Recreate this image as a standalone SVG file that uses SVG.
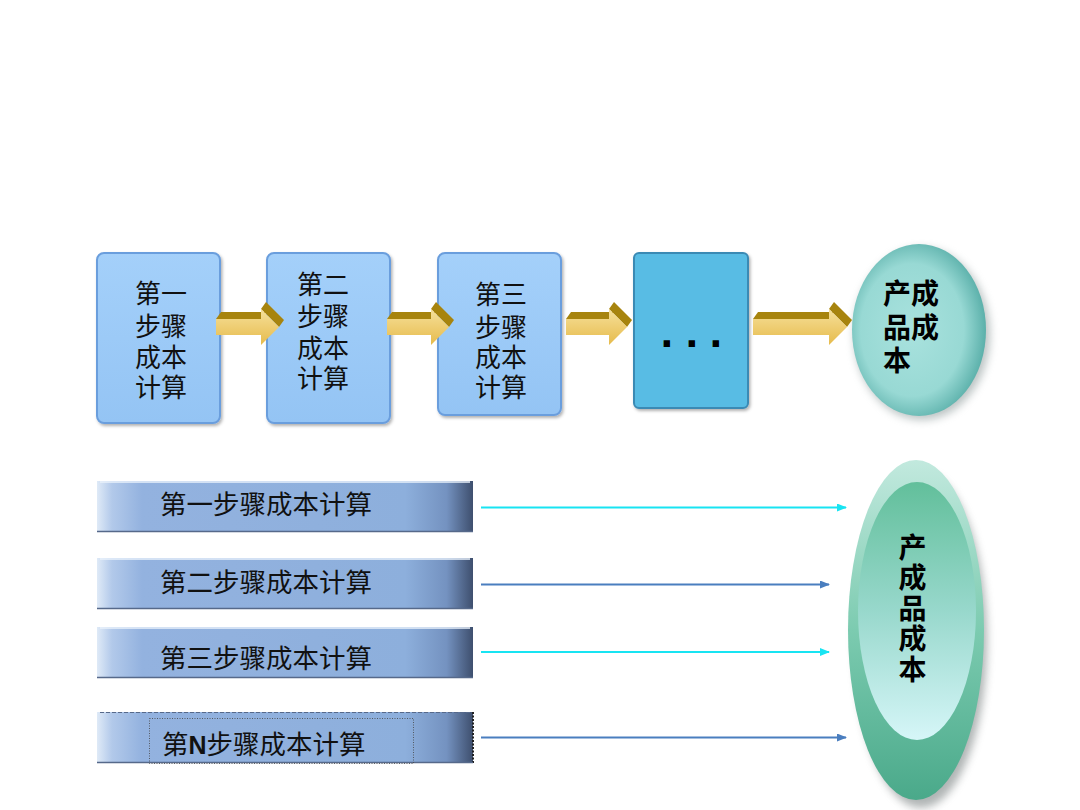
<svg xmlns="http://www.w3.org/2000/svg" width="1080" height="810" viewBox="0 0 1080 810">
<defs>
<style>
.box{fill:url(#boxG);stroke:#6b9edd;stroke-width:2}
.bt{font-family:"Liberation Sans","Noto Sans CJK SC",sans-serif;font-size:26px;fill:#111;text-anchor:middle}
.et{font-family:"Liberation Sans","Noto Sans CJK SC",sans-serif;font-size:28px;font-weight:bold;fill:#000}
.bar{fill:url(#barG)}
.bart{font-family:"Liberation Sans","Noto Sans CJK SC",sans-serif;font-size:26.5px;fill:#111}
.yf{fill:url(#yFront)}
.yt{fill:#a7840e}
.lc{stroke:#18e4f2;stroke-width:2.2;fill:none;marker-end:url(#mc)}
.lb{stroke:#4a7ebf;stroke-width:2.2;fill:none;marker-end:url(#mb)}
</style>
<linearGradient id="boxG" x1="0" y1="0" x2="0" y2="1">
<stop offset="0" stop-color="#a4d0fa"/><stop offset="1" stop-color="#94c4f4"/>
</linearGradient>
<linearGradient id="yFront" x1="0" y1="0" x2="0" y2="1">
<stop offset="0" stop-color="#f6e09a"/><stop offset="1" stop-color="#e6bb4c"/>
</linearGradient>
<linearGradient id="barG" x1="0" y1="0" x2="1" y2="0">
<stop offset="0" stop-color="#dfeaf7"/><stop offset="0.04" stop-color="#b2c9ea"/><stop offset="0.12" stop-color="#93b2df"/><stop offset="0.82" stop-color="#8dafdc"/><stop offset="0.93" stop-color="#7492c0"/><stop offset="1" stop-color="#3e4f6e"/>
</linearGradient>
<radialGradient id="eTop" cx="0.45" cy="0.5" r="0.55">
<stop offset="0" stop-color="#a9e2de"/><stop offset="0.7" stop-color="#98d9d4"/><stop offset="1" stop-color="#5bb0aa"/>
</radialGradient>
<linearGradient id="eOut" x1="0" y1="0" x2="0" y2="1">
<stop offset="0" stop-color="#c2e9de"/><stop offset="0.5" stop-color="#7ccbb0"/><stop offset="1" stop-color="#4aa98a"/>
</linearGradient>
<linearGradient id="eIn" x1="0" y1="0" x2="0" y2="1">
<stop offset="0" stop-color="#62bf9b"/><stop offset="0.5" stop-color="#98d8cc"/><stop offset="1" stop-color="#d6f6f8"/>
</linearGradient>
<filter id="blur" x="-30%" y="-30%" width="160%" height="160%"><feGaussianBlur stdDeviation="4"/></filter>
<filter id="sh" x="-10%" y="-10%" width="130%" height="130%"><feDropShadow dx="1.5" dy="2" stdDeviation="1.5" flood-color="#000" flood-opacity="0.3"/></filter>
<marker id="mc" markerWidth="10" markerHeight="8" refX="9" refY="4" orient="auto" markerUnits="userSpaceOnUse"><path d="M0,0 L10,4 L0,8 Z" fill="#18e4f2"/></marker>
<marker id="mb" markerWidth="10" markerHeight="8" refX="9" refY="4" orient="auto" markerUnits="userSpaceOnUse"><path d="M0,0 L10,4 L0,8 Z" fill="#4a7ebf"/></marker>
</defs>
<rect width="1080" height="810" fill="#fff"/>

<g id="step1">
<rect class="box" x="97" y="253" width="123" height="170" rx="7" filter="url(#sh)"/>
<text class="bt"><tspan x="161" y="303">第一</tspan><tspan x="161" y="336">步骤</tspan><tspan x="161" y="367">成本</tspan><tspan x="161" y="397">计算</tspan></text>
</g>
<g id="step2">
<rect class="box" x="267" y="253" width="123" height="170" rx="7" filter="url(#sh)"/>
<text class="bt"><tspan x="323" y="294">第二</tspan><tspan x="323" y="326">步骤</tspan><tspan x="323" y="358">成本</tspan><tspan x="323" y="388">计算</tspan></text>
</g>
<g id="step3">
<rect class="box" x="438" y="253" width="123" height="162" rx="7" filter="url(#sh)"/>
<text class="bt"><tspan x="501" y="304">第三</tspan><tspan x="501" y="337">步骤</tspan><tspan x="501" y="367">成本</tspan><tspan x="501" y="397">计算</tspan></text>
</g>
<g id="stepMore">
<rect x="634" y="253" width="114" height="155" rx="5" fill="#58bce4" stroke="#3a8ab4" stroke-width="2" filter="url(#sh)"/>
<text font-family="DejaVu Sans" font-weight="bold" font-size="36" fill="#000"><tspan x="660 685 709" y="347">...</tspan></text>
</g>
<g id="product1">
<ellipse cx="922" cy="334" rx="68" ry="86" fill="#7a8a8a" opacity="0.5" filter="url(#blur)"/>
<ellipse cx="919" cy="330" rx="67" ry="86" fill="url(#eTop)"/>
<text class="et"><tspan x="883" y="304">产成</tspan><tspan x="883" y="338">品成</tspan><tspan x="883" y="371">本</tspan></text>
</g>

<g id="bar1">
<rect class="bar" x="97" y="481" width="376" height="51"/>
<line x1="100" y1="482" x2="470" y2="482" stroke="#eaf2fb" stroke-width="1.5"/>
<line x1="97" y1="531.5" x2="473" y2="531.5" stroke="#56698a" stroke-width="1.5"/>
<text class="bart" x="160" y="514">第一步骤成本计算</text>
</g>
<g id="bar2">
<rect class="bar" x="97" y="558" width="376" height="51"/>
<line x1="100" y1="559" x2="470" y2="559" stroke="#eaf2fb" stroke-width="1.5"/>
<line x1="97" y1="608.5" x2="473" y2="608.5" stroke="#56698a" stroke-width="1.5"/>
<text class="bart" x="160" y="592">第二步骤成本计算</text>
</g>
<g id="bar3">
<rect class="bar" x="97" y="627" width="376" height="51"/>
<line x1="100" y1="628" x2="470" y2="628" stroke="#eaf2fb" stroke-width="1.5"/>
<line x1="97" y1="677.5" x2="473" y2="677.5" stroke="#56698a" stroke-width="1.5"/>
<text class="bart" x="160" y="668">第三步骤成本计算</text>
</g>
<g id="barN">
<rect class="bar" x="97" y="712" width="376" height="51"/>
<line x1="100" y1="712.5" x2="473" y2="712.5" stroke="#56698a" stroke-width="1" stroke-dasharray="4,2"/>
<line x1="473" y1="712" x2="473" y2="763" stroke="#222" stroke-width="2" stroke-dasharray="2,1.5"/>
<line x1="97" y1="762.5" x2="473" y2="762.5" stroke="#56698a" stroke-width="1.5"/>
<rect x="149.5" y="718.5" width="264" height="45" fill="none" stroke="#444" stroke-width="0.8" stroke-dasharray="1,1.5"/>
<text class="bart" x="162" y="754">第<tspan font-weight="bold" font-size="25">N</tspan>步骤成本计算</text>
</g>

<g id="product2">
<ellipse cx="921" cy="640" rx="66" ry="168" fill="#707878" opacity="0.55" filter="url(#blur)"/>
<ellipse cx="916" cy="630" rx="68" ry="170" fill="url(#eOut)"/>
<ellipse cx="917" cy="611" rx="59" ry="129" fill="url(#eIn)"/>
<text class="et" x="910" y="533" font-size="28" letter-spacing="2.5" style="writing-mode:vertical-rl">产成品成本</text>
</g>

<g id="connectors">
<g id="ya1">
<polygon class="yt" points="216,319 221,312 266,312 261,319"/>
<polygon class="yt" points="261,309 266,302 284,320 279,327"/>
<polygon class="yf" points="216,319 261,319 261,309 279,327 261,345 261,335 216,335"/>
</g>
<g id="ya2">
<polygon class="yt" points="387,319 392,312 436,312 431,319"/>
<polygon class="yt" points="431,309 436,302 454,320 449,327"/>
<polygon class="yf" points="387,319 431,319 431,309 449,327 431,345 431,335 387,335"/>
</g>
<g id="ya3">
<polygon class="yt" points="566,319 571,312 614,312 609,319"/>
<polygon class="yt" points="609,309 614,302 632,320 627,327"/>
<polygon class="yf" points="566,319 609,319 609,309 627,327 609,345 609,335 566,335"/>
</g>
<g id="ya4">
<polygon class="yt" points="753,319 758,312 834,312 829,319"/>
<polygon class="yt" points="829,309 834,302 852,320 847,327"/>
<polygon class="yf" points="753,319 829,319 829,309 847,327 829,345 829,335 753,335"/>
</g>
<line class="lc" x1="481" y1="507.5" x2="846" y2="507.5"/>
<line class="lb" x1="481" y1="584.5" x2="829" y2="584.5"/>
<line class="lc" x1="481" y1="652" x2="829" y2="652"/>
<line class="lb" x1="481" y1="737.5" x2="846" y2="737.5"/>
</g>
</svg>
